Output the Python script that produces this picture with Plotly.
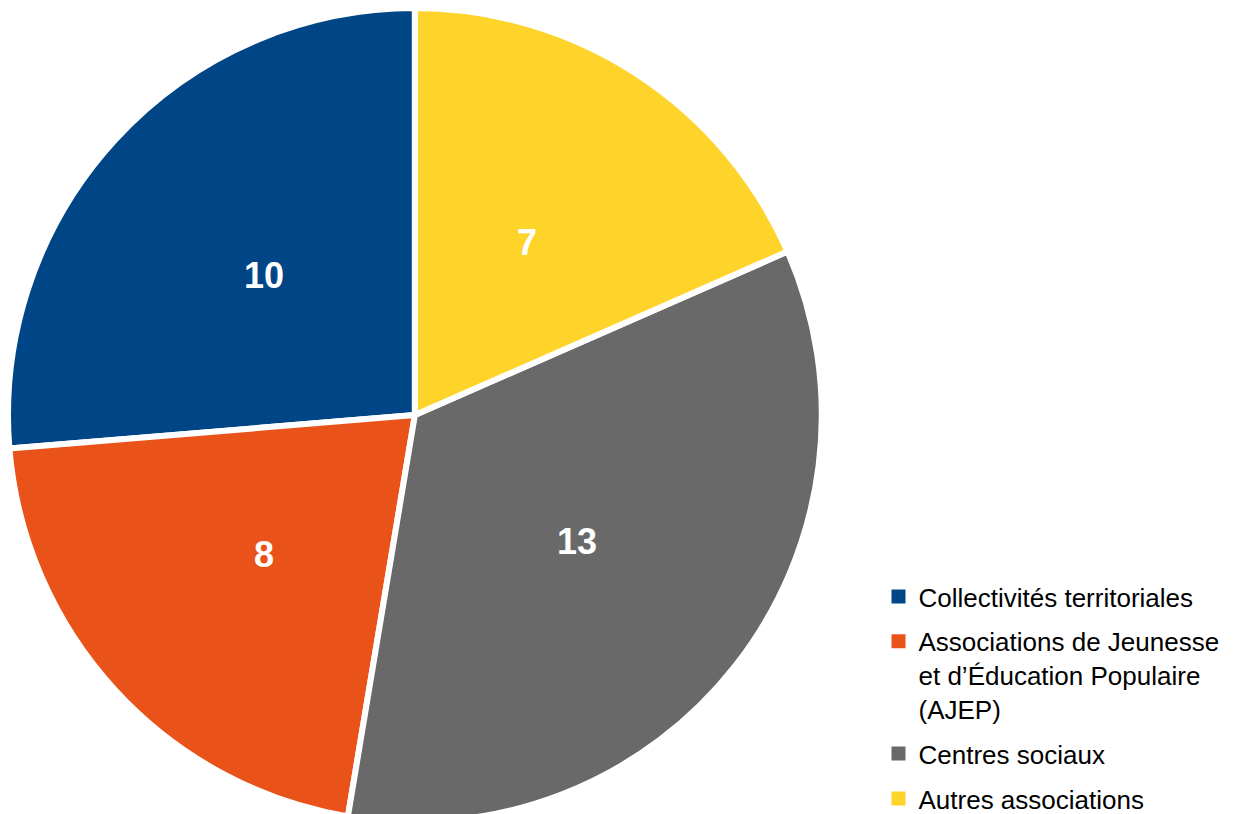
import math
import plotly.graph_objects as go

labels = ["Collectivités territoriales",
          "Associations de Jeunesse<br>et d’Éducation Populaire<br>(AJEP)",
          "Centres sociaux",
          "Autres associations"]
values = [10, 8, 13, 7]
colors = ["#004586", "#E9531A", "#696969", "#FED32A"]

W, H = 1233, 814
dom_x = [0, 0.66]
dom_y = [0, 1]

total = sum(values)
start_rotation = -360 * values[0] / total

fig = go.Figure()
fig.add_trace(go.Pie(
    labels=labels,
    values=values,
    sort=False,
    direction="counterclockwise",
    rotation=start_rotation,
    marker=dict(colors=colors, line=dict(color="white", width=6)),
    textinfo="none",
    domain=dict(x=dom_x, y=dom_y),
    hoverinfo="label+value",
    showlegend=False,
))

# value labels at half radius, placed from the data's cumulative angles
cx_px = (dom_x[0] + dom_x[1]) / 2 * W
cy_px = (dom_y[0] + dom_y[1]) / 2 * H
r_px = min((dom_x[1] - dom_x[0]) * W, (dom_y[1] - dom_y[0]) * H) / 2
cum = 0
for v in values:
    mid = (cum + v / 2) / total * 2 * math.pi  # counterclockwise from top
    cum += v
    d = 0.505 * r_px
    px = cx_px - d * math.sin(mid)
    py = cy_px + d * math.cos(mid)
    fig.add_annotation(
        x=px / W, y=py / H, xref="paper", yref="paper",
        text=str(v), showarrow=False, xanchor="center", yanchor="middle",
        font=dict(family="Liberation Sans", size=36, color="white", weight="bold"),
    )

# legend entries
for lab, col in zip(labels, colors):
    fig.add_trace(go.Scatter(
        x=[None], y=[None], mode="markers", name=lab, legendgroup=lab,
        marker=dict(symbol="square", size=14, color=col),
        showlegend=True, hoverinfo="skip",
    ))

fig.update_xaxes(visible=False)
fig.update_yaxes(visible=False)

fig.update_layout(
    width=W, height=H,
    margin=dict(l=0, r=0, t=0, b=0),
    paper_bgcolor="white",
    plot_bgcolor="white",
    font=dict(family="Liberation Sans", size=26, color="black"),
    legend=dict(x=0.706, y=0.0, xanchor="left", yanchor="bottom",
                font=dict(size=26, family="Liberation Sans"),
                itemwidth=30, traceorder="grouped", tracegroupgap=8,
                valign="top"),
    showlegend=True,
)

fig.write_html("out.html")
